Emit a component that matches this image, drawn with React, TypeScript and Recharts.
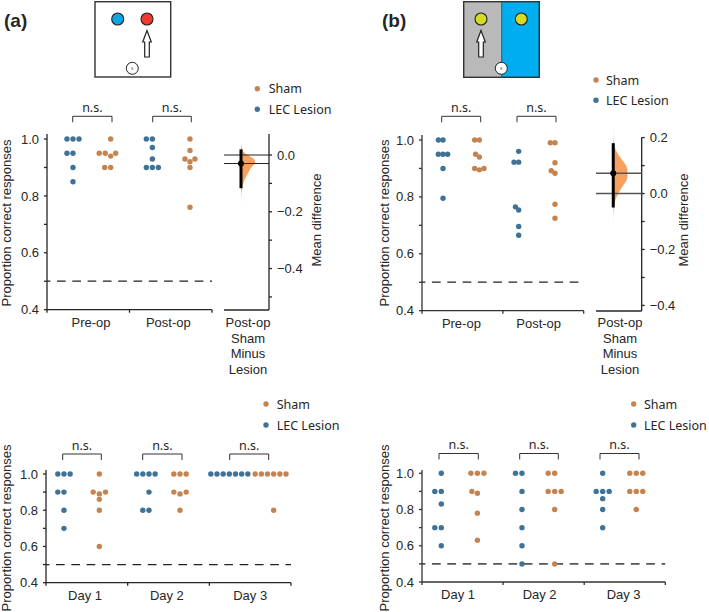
import React from "react";
import { ScatterChart, ComposedChart, Scatter, Area, XAxis, YAxis, ReferenceLine, ReferenceDot } from "recharts";

const BLUE = "#3f7297";
const BROWN = "#c5844f";
const INK = "#262626";
const SANS = "'Liberation Sans', Arial, sans-serif";
const HUMAN = "'Noto Sans', sans-serif";

// ---------- panel (a), top ----------
const aPreLesionV = [1, 1, 1, 0.95, 0.95, 0.9, 0.85];
const aPreLesionS = [-1, 0, 1, -1, 0, 0, 0];
const aPreShamV = [1, 0.95, 0.95, 0.95, 0.94, 0.9, 0.9];
const aPreShamS = [0, -1.9, -0.9, 0.83, 0, -1, 0];
const aPostLesionV = [1, 1, 0.97, 0.93, 0.9, 0.9, 0.9];
const aPostLesionS = [-1, 0, 0, 0, -1, 0, 1];
const aPostShamV = [1, 0.96, 0.93, 0.93, 0.92, 0.9, 0.76];
const aPostShamS = [0, 0, -0.83, 0.83, 0, 0, 0];

// ---------- panel (b), top ----------
const bPreLesionV = [1, 1, 0.95, 0.95, 0.95, 0.9, 0.795];
const bPreLesionS = [-1, 0, -1, 0, 1, 0, 0];
const bPreShamV = [1, 1, 0.95, 0.94, 0.9, 0.895, 0.9];
const bPreShamS = [-1, 0, -0.8, 0, -1, 0, 1];
const bPostLesionV = [0.96, 0.922, 0.922, 0.765, 0.754, 0.696, 0.665];
const bPostLesionS = [0, -1, 0, -0.7, 0, 0, 0];
const bPostShamV = [0.99, 0.99, 0.92, 0.892, 0.883, 0.774, 0.725];
const bPostShamS = [-1, 0, 0, -0.8, 0, 0, 0];

// ---------- panel (a), bottom ----------
const aD1LesionV = [1, 1, 1, 0.9, 0.9, 0.8, 0.7];
const aD1LesionS = [-1, 0, 1, -1, 0, 0, 0];
const aD1ShamV = [1, 0.9, 0.89, 0.9, 0.86, 0.8, 0.6];
const aD1ShamS = [0, -1, 0, 1, 0, 0, 0];
const aD2LesionV = [1, 1, 1, 1, 0.9, 0.8, 0.8];
const aD2LesionS = [-2, -1, 0, 1, 0, -1, 0];
const aD2ShamV = [1, 1, 1, 0.9, 0.89, 0.9, 0.8];
const aD2ShamS = [-1, 0, 1, -1, 0, 1, 0];
const aD3LesionV = [1, 1, 1, 1, 1, 1, 1];
const aD3LesionS = [-3, -2, -1, 0, 1, 2, 3];
const aD3ShamV = [1, 1, 1, 1, 1, 1, 0.8];
const aD3ShamS = [-3, -2, -1, 0, 1, 2, 0];

// ---------- panel (b), bottom ----------
const bD1LesionV = [1, 0.9, 0.9, 0.83, 0.7, 0.7, 0.6];
const bD1LesionS = [0, -1, 0, 0, -1, 0, 0];
const bD1ShamV = [1, 1, 1, 0.9, 0.89, 0.78, 0.63];
const bD1ShamS = [-1, 0, 1, -0.85, 0, 0, 0];
const bD2LesionV = [1, 1, 0.9, 0.8, 0.7, 0.6, 0.5];
const bD2LesionS = [-1, 0, 0, 0, 0, 0, 0];
const bD2ShamV = [1, 1, 0.9, 0.9, 0.9, 0.8, 0.5];
const bD2ShamS = [-1, 0, -1, 0, 1, 0, 0];
const bD3LesionV = [1, 0.9, 0.9, 0.9, 0.86, 0.8, 0.7];
const bD3LesionS = [0, -1, 0, 1, 0, 0, 0];
const bD3ShamV = [1, 1, 1, 0.9, 0.9, 0.9, 0.8];
const bD3ShamS = [-1, 0, 1, -1, 0, 1, 0];

// ---------- labels ----------
const topGroups = ["Pre-op", "Post-op"];
const bottomGroups = ["Day 1", "Day 2", "Day 3"];
const deltaLabel = ["Post-op", "Sham", "Minus", "Lesion"];
const legendNames = ["Sham", "LEC Lesion"];

// ---------- mean-difference panels ----------
const aDeltaValue = [0.05, 0.03, 0.01, 0, -0.01, -0.02, -0.03, -0.04, -0.06, -0.08, -0.1, -0.12, -0.15, -0.2];
const aDeltaDensity = [0, 0.05, 0.2, 0.5, 0.8, 1, 0.97, 0.8, 0.55, 0.33, 0.15, 0.07, 0.03, 0.005];
const bDeltaValue = [0.27, 0.2, 0.18, 0.16, 0.144, 0.125, 0.108, 0.085, 0.065, 0.049, 0.025, 0, -0.023, -0.05, -0.08, -0.115];
const bDeltaDensity = [0, 0.03, 0.07, 0.15, 0.3, 0.55, 0.8, 1, 1, 0.95, 0.65, 0.35, 0.15, 0.06, 0.02, 0];

const swarm = (center: number, step: number, values: number[], slots: number[]) =>
  values.map((y, i) => ({ x: center + slots[i] * step, y }));

const dot = (color: string) => (p: any) => <circle cx={p.cx} cy={p.cy} r={2.7} fill={color} />;

const PAD = { left: 45, right: 50, top: 25, bottom: 30 };
const TICK_FONT = 13;

type Rect = { l: number; t: number; r: number; b: number };

function boxStyle(p: Rect): React.CSSProperties {
  return { position: "absolute", left: p.l - PAD.left, top: p.t - PAD.top };
}

function Swarm({ plot, xMax, yMax, groupTicks, lesion, sham, axisColor = INK, dashColor = "#222", dashWidth = 1.25 }: any) {
  const xTicks = Array.from({ length: xMax + 1 }, (_, i) => i);
  const allX = [...xTicks, ...groupTicks.map((g: any) => g.at)].sort((a, b) => a - b);
  const labelAt = new Map(groupTicks.map((g: any) => [g.at, g.name]));
  const tick = (p: any) => {
    const name = labelAt.get(p.payload.value) as string | undefined;
    if (name) {
      return (
        <text x={p.x} y={p.y + 17} textAnchor="middle" fontFamily={SANS} fontSize={TICK_FONT} fill={INK}>
          {name}
        </text>
      );
    }
    return <line x1={p.x} x2={p.x} y1={p.y} y2={p.y + 3} stroke={axisColor} strokeWidth={1.3} />;
  };
  return (
    <div style={boxStyle(plot)}>
      <ScatterChart
        width={plot.r - plot.l + PAD.left + PAD.right}
        height={plot.b - plot.t + PAD.top + PAD.bottom}
        margin={{ top: PAD.top, right: PAD.right, left: 0, bottom: 0 }}
      >
        <XAxis
          type="number"
          dataKey="x"
          domain={[0, xMax]}
          ticks={allX}
          interval={0}
          tick={tick}
          tickLine={false}
          tickSize={0}
          tickMargin={0}
          height={PAD.bottom}
          axisLine={{ stroke: axisColor, strokeWidth: 1.3 }}
        />
        <YAxis
          type="number"
          dataKey="y"
          width={PAD.left}
          domain={[0.4, yMax]}
          ticks={[0.4, 0.5, 0.6, 0.7, 0.8, 0.9, 1]}
          interval={0}
          tickSize={3}
          tickMargin={5}
          tickFormatter={(v: number) => (Math.round(v * 10) % 2 === 0 ? v.toFixed(1) : "")}
          tick={{ fontFamily: SANS, fontSize: TICK_FONT, fill: INK }}
          tickLine={{ stroke: axisColor, strokeWidth: 1.3 }}
          axisLine={{ stroke: axisColor, strokeWidth: 1.3 }}
        />
        <ReferenceLine y={0.5} stroke={dashColor} strokeWidth={dashWidth} strokeDasharray="8.7 6.6" strokeDashoffset={5.3} />
        <Scatter name="LEC Lesion" data={lesion} fill={BLUE} shape={dot(BLUE)} isAnimationActive={false} />
        <Scatter name="Sham" data={sham} fill={BROWN} shape={dot(BROWN)} isAnimationActive={false} />
      </ScatterChart>
    </div>
  );
}

function Delta({ plot, id, values, density, domain, axisTop, xRight, ticks, mean, ciLow, ciHigh, stops, lineColor, lineWidth }: any) {
  const data = values.map((v: number, i: number) => ({ v, d: density[i] }));
  return (
    <div style={boxStyle(plot)}>
      <ComposedChart
        layout="vertical"
        data={data}
        width={plot.r - plot.l + PAD.left + PAD.right}
        height={plot.b - plot.t + PAD.top + PAD.bottom}
        margin={{ top: PAD.top, right: 0, left: PAD.left, bottom: 0 }}
      >
        <defs>
          <linearGradient id={id} x1="0" y1="0" x2="0" y2="1">
            {stops.map((s: number[]) => (
              <stop key={s[0]} offset={s[0]} stopColor="#f9a05f" stopOpacity={s[1]} />
            ))}
          </linearGradient>
        </defs>
        <XAxis type="number" domain={[-1.214, xRight]} tick={false} tickLine={false} height={PAD.bottom} axisLine={{ stroke: INK, strokeWidth: 1.3 }} />
        <YAxis
          type="number"
          dataKey="v"
          orientation="right"
          reversed
          width={PAD.right}
          domain={domain}
          ticks={ticks}
          interval={0}
          tickSize={3}
          tickMargin={5}
          tickFormatter={(v: number) => (Math.round(Math.abs(v) * 10) % 2 === 0 ? (v < 0 ? "\u2212" : "") + Math.abs(v).toFixed(1) : "")}
          tick={{ fontFamily: SANS, fontSize: TICK_FONT, fill: INK, textAnchor: "start" }}
          tickLine={{ stroke: INK, strokeWidth: 1.3 }}
          axisLine={false}
        />
        <Area dataKey="d" type="monotone" fill={`url(#${id})`} fillOpacity={1} stroke="none" isAnimationActive={false} dot={false} activeDot={false} />
        <ReferenceLine segment={[{ x: xRight, y: domain[0] }, { x: xRight, y: axisTop }]} stroke={INK} strokeWidth={1.3} />
        <ReferenceLine y={0} stroke={lineColor} strokeWidth={lineWidth} />
        <ReferenceLine y={mean} stroke={lineColor} strokeWidth={lineWidth} />
        <ReferenceLine segment={[{ x: 0, y: ciLow }, { x: 0, y: ciHigh }]} stroke="#000" strokeWidth={3} />
        <ReferenceDot x={0} y={mean} r={3} fill="#000" stroke="none" />
      </ComposedChart>
    </div>
  );
}

function Bracket({ x1, x2, y }: { x1: number; x2: number; y: number }) {
  return (
    <g>
      <path d={`M${x1} ${y + 6}V${y}H${x2}V${y + 6}`} fill="none" stroke="#333" strokeWidth={1} />
      <text x={(x1 + x2) / 2} y={y - 4.5} textAnchor="middle" fontFamily={HUMAN} fontSize={12.5} fill={INK}>
        n.s.
      </text>
    </g>
  );
}

function KeyBlock({ x, y1, y2, tx }: { x: number; y1: number; y2: number; tx: number }) {
  return (
    <g fontFamily={HUMAN} fontSize={12.5} fill={INK}>
      <circle cx={x} cy={y1} r={2.7} fill={BROWN} />
      <text x={tx} y={y1 + 4.5}>{legendNames[0]}</text>
      <circle cx={x} cy={y2} r={2.7} fill={BLUE} />
      <text x={tx} y={y2 + 4.5}>{legendNames[1]}</text>
    </g>
  );
}

function Arrow({ x }: { x: number }) {
  return (
    <path
      d={`M${x} 30.5L${x + 4.3} 42H${x + 2.3}V57H${x - 2.3}V42H${x - 4.3}Z`}
      fill="#fff"
      stroke="#222"
      strokeWidth={1.2}
    />
  );
}

function Start({ x }: { x: number }) {
  return (
    <g>
      <circle cx={x} cy={68.3} r={6} fill="#fff" stroke="#222" strokeWidth={1} />
      <text x={x} y={70.3} textAnchor="middle" fontFamily={SANS} fontSize={5} fill="#555">s</text>
    </g>
  );
}

function YTitle({ x, y }: { x: number; y: number }) {
  return (
    <text transform={`translate(${x} ${y}) rotate(-90)`} textAnchor="middle" fontFamily={SANS} fontSize={13} fill={INK}>
      Proportion correct responses
    </text>
  );
}

function MeanTitle({ x, y }: { x: number; y: number }) {
  return (
    <text transform={`translate(${x} ${y}) rotate(-90)`} textAnchor="middle" fontFamily={SANS} fontSize={13} fill={INK}>
      Mean difference
    </text>
  );
}

function DeltaLabel({ x }: { x: number }) {
  return (
    <g fontFamily={SANS} fontSize={TICK_FONT} fill={INK} textAnchor="middle">
      {deltaLabel.map((t, i) => (
        <text key={t} x={x} y={327 + i * 15.55}>{t}</text>
      ))}
    </g>
  );
}

export default function App() {
  const aStep = 0.073;
  const bStep = 0.0577;
  const cStep = 0.0755;
  const dStep = 0.08;
  return (
    <div style={{ position: "absolute", left: 0, top: 0, width: 709, height: 612, background: "#fff", overflow: "hidden" }}>
      <Swarm
        plot={{ l: 47, t: 134, r: 212, b: 309.7 }}
        xMax={2}
        yMax={1.0177}
        groupTicks={[{ at: 0.533, name: topGroups[0] }, { at: 1.47, name: topGroups[1] }]}
        lesion={[...swarm(0.315, aStep, aPreLesionV, aPreLesionS), ...swarm(1.277, aStep, aPostLesionV, aPostLesionS)]}
        sham={[...swarm(0.772, aStep, aPreShamV, aPreShamS), ...swarm(1.733, aStep, aPostShamV, aPostShamS)]}
      />
      <Swarm
        plot={{ l: 422.3, t: 135.3, r: 584, b: 311 }}
        xMax={2}
        yMax={1.0175}
        axisColor="#333"
        groupTicks={[{ at: 0.487, name: topGroups[0] }, { at: 1.443, name: topGroups[1] }]}
        lesion={[...swarm(0.26, bStep, bPreLesionV, bPreLesionS), ...swarm(1.196, bStep, bPostLesionV, bPostLesionS)]}
        sham={[...swarm(0.709, bStep, bPreShamV, bPreShamS), ...swarm(1.645, bStep, bPostShamV, bPostShamS)]}
      />
      <Swarm
        plot={{ l: 46, t: 470, r: 291, b: 582.7 }}
        xMax={3}
        yMax={1.022}
        groupTicks={[{ at: 0.478, name: bottomGroups[0] }, { at: 1.48, name: bottomGroups[1] }, { at: 2.5, name: bottomGroups[2] }]}
        lesion={[...swarm(0.22, cStep, aD1LesionV, aD1LesionS), ...swarm(1.261, cStep, aD2LesionV, aD2LesionS), ...swarm(2.245, cStep, aD3LesionV, aD3LesionS)]}
        sham={[...swarm(0.653, cStep, aD1ShamV, aD1ShamS), ...swarm(1.641, cStep, aD2ShamV, aD2ShamS), ...swarm(2.788, cStep, aD3ShamV, aD3ShamS)]}
      />
      <Swarm
        plot={{ l: 421.7, t: 470, r: 665, b: 582 }}
        xMax={3}
        yMax={1.018}
        axisColor="#333"
        dashColor="#555"
        dashWidth={1.6}
        groupTicks={[{ at: 0.444, name: bottomGroups[0] }, { at: 1.45, name: bottomGroups[1] }, { at: 2.486, name: bottomGroups[2] }]}
        lesion={[...swarm(0.238, dStep, bD1LesionV, bD1LesionS), ...swarm(1.233, dStep, bD2LesionV, bD2LesionS), ...swarm(2.228, dStep, bD3LesionV, bD3LesionS)]}
        sham={[...swarm(0.683, dStep, bD1ShamV, bD1ShamS), ...swarm(1.636, dStep, bD2ShamV, bD2ShamS), ...swarm(2.642, dStep, bD3ShamV, bD3ShamS)]}
      />
      <Delta
        id="violinA"
        plot={{ l: 224, t: 134, r: 269, b: 310 }}
        values={aDeltaValue}
        density={aDeltaDensity}
        domain={[-0.546, 0.074]}
        axisTop={0.074}
        xRight={2}
        ticks={[-0.5, -0.4, -0.3, -0.2, -0.1, 0]}
        mean={-0.03}
        ciLow={-0.117}
        ciHigh={0.02}
        lineColor="#222"
        lineWidth={1}
        stops={[[0, 0.15], [0.1, 1], [0.68, 1], [0.8, 0.25], [1, 0.05]]}
      />
      <Delta
        id="violinB"
        plot={{ l: 596, t: 118, r: 641.7, b: 311 }}
        values={bDeltaValue}
        density={bDeltaDensity}
        domain={[-0.42, 0.27]}
        axisTop={0.2}
        xRight={2}
        ticks={[-0.4, -0.3, -0.2, -0.1, 0, 0.1, 0.2]}
        mean={0.0725}
        ciLow={-0.05}
        ciHigh={0.18}
        lineColor="#555"
        lineWidth={1.5}
        stops={[[0, 0.1], [0.25, 0.75], [0.33, 1], [0.82, 1], [0.9, 0.5], [1, 0.15]]}
      />
      <svg width={709} height={612} style={{ position: "absolute", left: 0, top: 0, pointerEvents: "none" }}>
        <text x={4} y={27} fontFamily={SANS} fontSize={19} fontWeight={700} fill={INK}>(a)</text>
        <text x={382} y={27} fontFamily={SANS} fontSize={19} fontWeight={700} fill={INK}>(b)</text>

        <rect x={95} y={1.7} width={75.7} height={75.3} fill="#fff" stroke="#333" strokeWidth={1.4} />
        <circle cx={117.7} cy={19} r={6} fill="#0ba6e6" stroke="#222" strokeWidth={1.1} />
        <circle cx={147} cy={19} r={6} fill="#f3382d" stroke="#222" strokeWidth={1.1} />
        <Arrow x={147} />
        <Start x={132.3} />

        <rect x={463.7} y={1.7} width={38} height={75.6} fill="#b9b9b9" />
        <rect x={501.7} y={1.7} width={37.6} height={75.6} fill="#00aeef" />
        <rect x={463.7} y={1.7} width={75.6} height={75.6} fill="none" stroke="#333" strokeWidth={1.4} />
        <line x1={501.7} x2={501.7} y1={1.7} y2={77} stroke="#333" strokeWidth={0.8} />
        <circle cx={481} cy={19} r={6} fill="#d5dc1f" stroke="#222" strokeWidth={1.1} />
        <circle cx={521.3} cy={19} r={6} fill="#d5dc1f" stroke="#222" strokeWidth={1.1} />
        <Arrow x={481} />
        <Start x={501.3} />

        <KeyBlock x={257.3} y1={88.7} y2={109.3} tx={268.7} />
        <KeyBlock x={596} y1={80} y2={100.3} tx={606} />
        <KeyBlock x={266} y1={404} y2={425} tx={276.7} />
        <KeyBlock x={633.7} y1={404} y2={425} tx={644} />

        <Bracket x1={72.7} x2={112} y={116.3} />
        <Bracket x1={152.7} x2={191.3} y={116.3} />
        <Bracket x1={441.7} x2={480.7} y={116.3} />
        <Bracket x1={517} x2={556} y={116.3} />
        <Bracket x1={62.7} x2={101.3} y={454} />
        <Bracket x1={142.7} x2={182} y={454} />
        <Bracket x1={229.7} x2={268.7} y={454} />
        <Bracket x1={439} x2={478.3} y={453.5} />
        <Bracket x1={519.7} x2={558.3} y={453.5} />
        <Bracket x1={600} x2={639} y={453.5} />

        <YTitle x={11} y={223} />
        <YTitle x={389} y={223} />
        <YTitle x={11} y={528} />
        <YTitle x={389} y={528} />
        <MeanTitle x={321} y={220} />
        <MeanTitle x={688} y={220} />
        <DeltaLabel x={248} />
        <DeltaLabel x={620} />
      </svg>
    </div>
  );
}
